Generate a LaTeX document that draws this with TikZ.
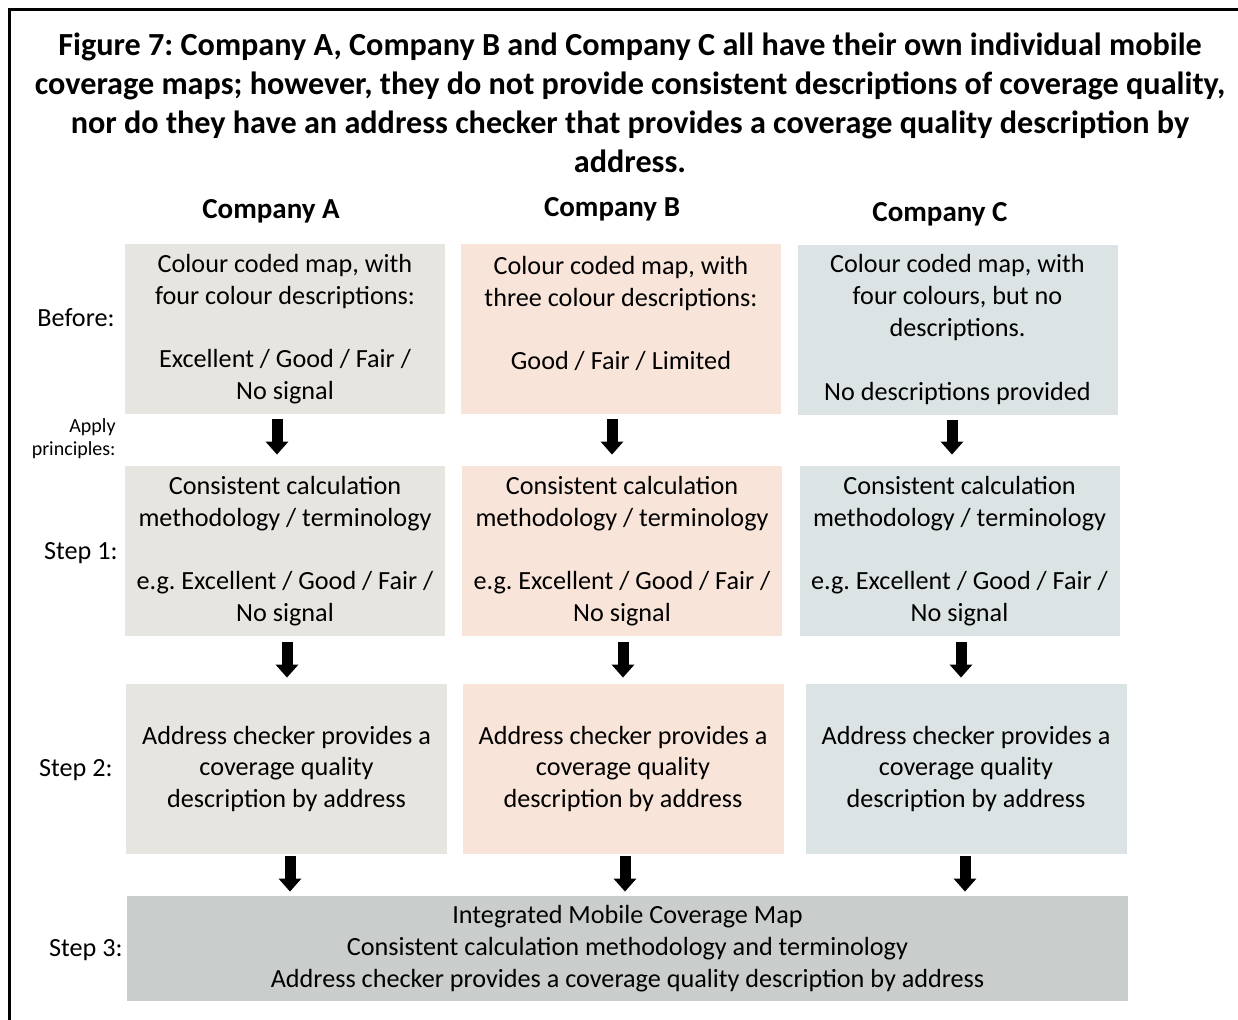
\documentclass[tikz,border=0pt]{standalone}
\usepackage{fontspec}
\setmainfont{Carlito}
\usetikzlibrary{arrows.meta,calc}
\definecolor{fillA}{RGB}{231,229,223}
\definecolor{fillB}{RGB}{248,228,216}
\definecolor{fillC}{RGB}{220,227,228}
\definecolor{fillS}{RGB}{201,205,204}
\frenchspacing
\begin{document}
\begin{tikzpicture}[x=0.5pt,y=-0.5pt,
	box/.style={inner sep=0pt,minimum width=160pt,minimum height=85pt,align=center,font=\fontsize{13.1}{15.9}\selectfont},
	lbl/.style={anchor=east,align=right,inner sep=0pt,font=\fontsize{13.1}{15.9}\selectfont},
	head/.style={font=\fontsize{14.5}{17}\selectfont\bfseries},
	bigarrow/.style={line width=5.5pt,-{Triangle[width=11pt,length=6.5pt]}}]
\useasboundingbox (0,0) rectangle (1238,1019);
\clip (0,0) rectangle (1238,1019);
\draw[line width=1.5pt] (9,9) rectangle (1260,1040);
\node[align=center,inner sep=0pt,font=\fontsize{16.1}{19.5}\selectfont\bfseries] (title) at (630,103)
	{Figure 7: Company A, Company B and Company C all have their own individual mobile\\
	coverage maps; however, they do not provide consistent descriptions of coverage quality,\\
	nor do they have an address checker that provides a coverage quality description by\\
	address.};
\node[head] (compA) at (271,211) {Company A};
\node[head] (compB) at (612,209) {Company B};
\node[head] (compC) at (940,214) {Company C};
\node[lbl] (before) at (115,318) {Before:};
\node[lbl,font=\fontsize{10}{11.5}\selectfont] (apply) at (116,439) {Apply\\principles:};
\node[lbl] (step1) at (118,553) {Step 1:};
\node[lbl] (step2) at (113,770) {Step 2:};
\node[lbl] (step3) at (123,950) {Step 3:};
% before
\node[box,fill=fillA] (a0) at (285,329) {Colour coded map, with\\four colour descriptions:\\[15.9pt]Excellent / Good / Fair /\\No signal};
\node[box,fill=fillB] (b0) at (621,329) {Colour coded map, with\\three colour descriptions:\\[15.9pt]Good / Fair / Limited\\\mbox{}};
\node[box,fill=fillC] (c0) at (957.5,329.5) {Colour coded map, with\\four colours, but no\\descriptions.\\[15.9pt]No descriptions provided};
% step 1
\foreach \n/\col/\x in {a1/fillA/285,b1/fillB/622,c1/fillC/959.5}
	\node[box,fill=\col] (\n) at (\x,551) {Consistent calculation\\methodology / terminology\\[15.9pt]e.g. Excellent / Good / Fair /\\No signal};
% step 2
\foreach \n/\col/\x in {a2/fillA/286.5,b2/fillB/623,c2/fillC/966}
	\node[box,fill=\col,minimum width=160.5pt] (\n) at (\x,769) {Address checker provides a\\coverage quality\\description by address};
% step 3
\node[box,fill=fillS,minimum width=500.5pt,minimum height=52.5pt] (s3) at (627.5,948.5)
	{Integrated Mobile Coverage Map\\Consistent calculation methodology and terminology\\Address checker provides a coverage quality description by address};
\foreach \a/\b/\dx/\g/\h in {a0/a1/-8/5/11,b0/b1/-9/5/11,c0/c1/-5.5/5/11,
	a1/a2/2/6/6,b1/b2/1/6/6,c1/c2/1.5/6/6,
	a2/s3/3.5/2/4,b2/s3/2/2/4,c2/s3/-1/2/4}
	\draw[bigarrow] ($(\a.south)+(\dx,\g)$) -- ($(\a.south |- \b.north)+(\dx,-\h)$);
\end{tikzpicture}
\end{document}
